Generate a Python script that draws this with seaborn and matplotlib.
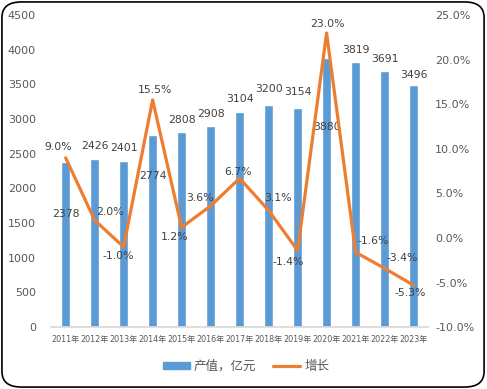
import matplotlib
matplotlib.use('Agg')
import matplotlib.pyplot as plt
import numpy as np
import pandas as pd
import seaborn as sns
from matplotlib.patches import FancyBboxPatch, Patch
from matplotlib.lines import Line2D
from matplotlib.ticker import FuncFormatter

years = ['2011年', '2012年', '2013年', '2014年', '2015年', '2016年', '2017年',
         '2018年', '2019年', '2020年', '2021年', '2022年', '2023年']
output_value = [2378, 2426, 2401, 2774, 2808, 2908, 3104, 3200, 3154, 3880, 3819, 3691, 3496]
growth = [9.0, 2.0, -1.0, 15.5, 1.2, 3.6, 6.7, 3.1, -1.4, 23.0, -1.6, -3.4, -5.3]

# label offsets in pixels from the mark (dx right, dy up)
bar_lbl_off = [(0, -52), (0, 8), (0, 8), (0, -41), (0, 7), (0, 7), (0, 8),
               (0, 11), (0, 11), (0, -69), (0, 7), (0, 7), (0, 5)]
line_lbl_off = [(-7, 11), (15, 8), (-5, -9), (2, 10), (-7, -10), (-11, 8), (-2, 6),
                (9, 12), (-9, -12), (1, 9), (18, 11), (18, 10), (-3, -8)]

BLUE = '#5B9BD5'
ORANGE = '#ED7D31'
TXT = '#404040'
TICK = '#595959'

sns.set_theme(style='white')
plt.rcParams['font.family'] = ['DejaVu Sans', 'Noto Sans CJK SC']

df = pd.DataFrame({'year': years, 'value': output_value, 'growth': growth,
                   'pos': np.arange(len(years))})

fig = plt.figure(figsize=(4.87, 3.89), dpi=100)
ax = fig.add_axes([0.105, 0.159, 0.774, 0.802])
sns.barplot(data=df, x='year', y='value', color=BLUE, width=0.33, saturation=1, ax=ax)
ax.set_ylim(0, 4500)
ax.set_yticks(range(0, 4501, 500))
ax.set_xlim(-0.5, len(years) - 0.5)
ax.set_xlabel('')
ax.set_ylabel('')

ax2 = ax.twinx()
sns.lineplot(data=df, x='pos', y='growth', color=ORANGE, linewidth=2.3, sort=False, ax=ax2)
ax2.set_ylim(-10, 25)
ax2.set_yticks(range(-10, 26, 5))
ax2.yaxis.set_major_formatter(FuncFormatter(lambda v, p: f'{v:.1f}%'))
ax2.set_xlim(-0.5, len(years) - 0.5)
ax2.set_xlabel('')
ax2.set_ylabel('')

for a in (ax, ax2):
    for s in a.spines.values():
        s.set_visible(False)
    a.tick_params(length=0, colors=TICK, labelsize=8)
ax.spines['bottom'].set_visible(True)
ax.spines['bottom'].set_color('#D9D9D9')
ax.tick_params(axis='x', labelsize=5.8, pad=6)
ax.tick_params(axis='y', pad=11)
ax2.tick_params(axis='y', pad=5)

px = 72 / fig.dpi
for i, v in enumerate(output_value):
    dx, dy = bar_lbl_off[i]
    ax.annotate(str(v), (i, v), xytext=(dx * px, dy * px), textcoords='offset points',
                ha='center', va='bottom' if dy > 0 else 'center', fontsize=7.8, color=TXT)
for i, g in enumerate(growth):
    dx, dy = line_lbl_off[i]
    ax2.annotate(f'{g:.1f}%', (i, g), xytext=(dx * px, dy * px), textcoords='offset points',
                 ha='center', va='center', fontsize=7.8, color=TXT)

handles = [Patch(color=BLUE), Line2D([0], [0], color=ORANGE, lw=2.3)]
leg = fig.legend(handles, ['产值，亿元', '增长'], loc='center', bbox_to_anchor=(0.505, 0.058),
                 ncol=2, frameon=False, fontsize=9, labelcolor=TICK, handlelength=2.2,
                 handleheight=0.55, columnspacing=1.3, handletextpad=0.3)
for t in leg.get_texts():
    t.set_fontfamily(['Noto Sans CJK SC', 'DejaVu Sans'])

border = FancyBboxPatch((0.004, 0.005), 0.99, 0.99, boxstyle='round,pad=0,rounding_size=0.04',
                        transform=fig.transFigure, fill=False, edgecolor='black', linewidth=1.2)
fig.patches.append(border)

fig.savefig('out.png', dpi=100)
